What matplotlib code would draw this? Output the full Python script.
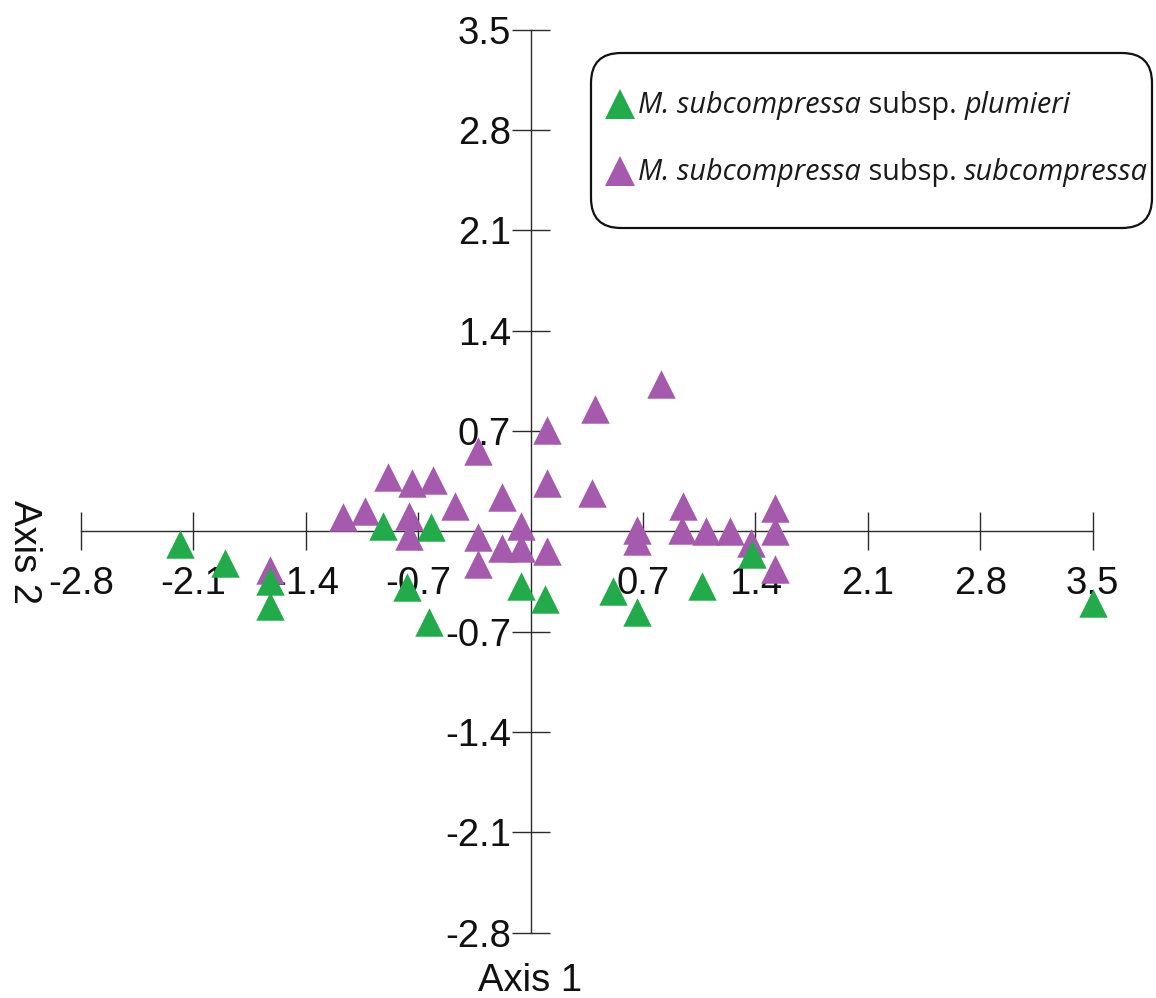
import matplotlib
matplotlib.use('Agg')
import matplotlib.pyplot as plt
from matplotlib.patches import FancyBboxPatch
from matplotlib.lines import Line2D
from matplotlib.transforms import IdentityTransform

# ---- data ----
plumieri_x = [-2.18, -1.90, -1.62, -1.62, -0.92, -0.62, -0.77, -0.63,
              -0.06, 0.09, 0.51, 0.66, 1.07, 1.38, 3.50]
plumieri_y = [-0.09, -0.22, -0.35, -0.52, 0.04, 0.03, -0.39, -0.63,
              -0.38, -0.47, -0.42, -0.56, -0.38, -0.16, -0.50]

subcomp_x = [-1.62, -1.17, -1.03, -0.89, -0.74, -0.61, -0.76, -0.76,
             -0.47, -0.33, 0.10, 0.10, -0.18, -0.33, -0.33, -0.18,
             -0.06, -0.06, 0.10, 0.40, 0.81, 0.38, 0.66, 0.66,
             0.95, 0.94, 1.09, 1.24, 1.37, 1.52, 1.52, 1.52]
subcomp_y = [-0.27, 0.10, 0.14, 0.38, 0.34, 0.36, 0.11, -0.03,
             0.18, 0.56, 0.71, 0.34, 0.24, -0.04, -0.23, -0.12,
             0.04, -0.12, -0.14, 0.85, 1.03, 0.27, 0.01, -0.07,
             0.18, 0.01, 0.00, 0.00, -0.08, 0.16, 0.00, -0.26]

tick_values = [-2.8, -2.1, -1.4, -0.7, 0.7, 1.4, 2.1, 2.8, 3.5]
tick_labels = ['-2.8', '-2.1', '-1.4', '-0.7', '0.7', '1.4', '2.1', '2.8', '3.5']

legend_plumieri = [('M. subcompressa', 'italic'), (' subsp. ', 'normal'), ('plumieri', 'italic')]
legend_subcomp = [('M. subcompressa', 'italic'), (' subsp. ', 'normal'), ('subcompressa', 'italic')]

green = '#23ab4b'
purple = '#a65aad'
axis_col = '#2b2b2b'

W, H = 1156, 998
fig = plt.figure(figsize=(W / 100, H / 100), dpi=100)
ax = fig.add_axes([0, 0, 1, 1])
ax.patch.set_visible(False)

px_per_x = 160.6
px_per_y = 143.3
x0_px, y0_px = 530.6, 531.3
ax.set_xlim(-x0_px / px_per_x, (W - x0_px) / px_per_x)
ax.set_ylim(-(H - y0_px) / px_per_y, y0_px / px_per_y)

for s in ['top', 'right']:
    ax.spines[s].set_visible(False)
for s in ['left', 'bottom']:
    ax.spines[s].set_position(('data', 0))
    ax.spines[s].set_bounds(tick_values[0], tick_values[-1])
    ax.spines[s].set_color(axis_col)
    ax.spines[s].set_linewidth(1.0)

ax.set_xticks(tick_values)
ax.set_xticklabels(tick_labels)
ax.set_yticks(tick_values)
ax.set_yticklabels(tick_labels)
ax.tick_params(direction='inout', length=27.4, width=1.0, color=axis_col,
               labelsize=27.5, labelcolor='#111111')
ax.tick_params(axis='x', pad=11)
ax.tick_params(axis='y', pad=0.5)
for lab in ax.get_xticklabels() + ax.get_yticklabels():
    lab.set_fontfamily('Liberation Sans')

ax.scatter(subcomp_x, subcomp_y, marker='^', s=20.5 ** 2, color=purple,
           linewidths=0, zorder=3, clip_on=False)
ax.scatter(plumieri_x, plumieri_y, marker='^', s=20.5 ** 2, color=green,
           linewidths=0, zorder=4, clip_on=False)

fig.text(530 / W, 1 - 981 / H, 'Axis 1', ha='center', va='center',
         fontsize=27.5, family='Liberation Sans', color='#111111')
fig.text(24 / W, 1 - 552 / H, 'Axis 2', ha='center', va='center', rotation=-90,
         fontsize=27.5, family='Liberation Sans', color='#111111')

# ---- legend box (pixel coordinates, origin top-left converted) ----
ident = IdentityTransform()
box_l, box_r, box_t, box_b = 591, 1152, 53, 228
box = FancyBboxPatch((box_l, H - box_b), box_r - box_l, box_b - box_t,
                     boxstyle='round,pad=0,rounding_size=30', transform=ident,
                     facecolor='white', edgecolor='#111111', linewidth=1.6, zorder=5)
fig.add_artist(box)

leg_font = 'Open Sans'
leg_size = 20.8
renderer = fig.canvas.get_renderer()


def draw_pieces(pieces, x, y_base, size):
    for txt, style in pieces:
        t = fig.text(x, y_base, txt, transform=ident, fontsize=size, style=style,
                     family=leg_font, ha='left', va='baseline', color='#1a1a1a', zorder=6)
        bb = t.get_window_extent(renderer)
        x = bb.x1
    return x


rows = [(legend_plumieri, green, 104), (legend_subcomp, purple, 171)]
for pieces, col, yc in rows:
    fig.add_artist(Line2D([620], [H - yc], marker='^', markersize=21, color=col,
                          markeredgewidth=0, linestyle='none', transform=ident, zorder=6))
    draw_pieces(pieces, 638, H - yc - 9, leg_size)

fig.savefig('out.png', dpi=100)
